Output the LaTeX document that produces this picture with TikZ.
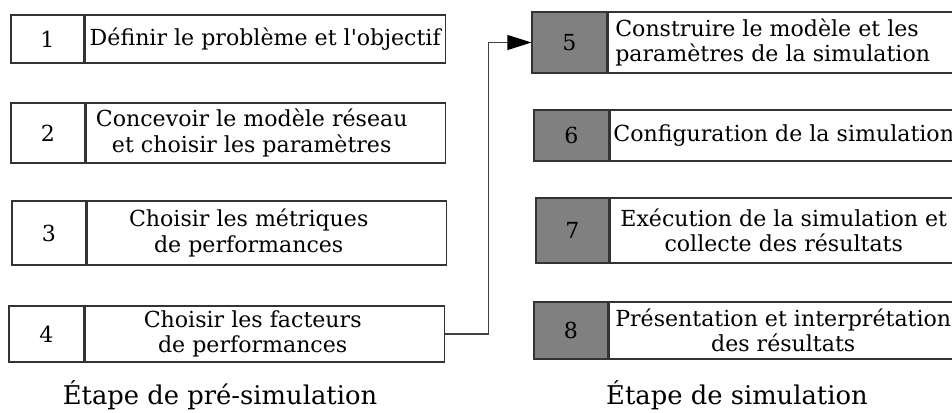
\documentclass[tikz,border=0pt]{standalone}
\usepackage{fontspec}
\setmainfont{DejaVu Serif}
\usetikzlibrary{positioning,arrows.meta}

\begin{document}
\begin{tikzpicture}[x=0.5pt,y=-0.5pt,
    cell/.style={draw=black!80, line width=0.6pt, inner sep=0pt, align=center,
      font=\fontsize{11.05pt}{12.6pt}\selectfont},
    numcell/.style={cell},
    simcell/.style={cell, fill=black!50},
    txtcell/.style={cell, right=0pt of #1},
    stage/.style={font=\fontsize{12.9pt}{14pt}\selectfont}]
    \useasboundingbox (0,0) rectangle (952,412);
    % etape de pre-simulation
    \node[numcell, minimum width=36.5pt, minimum height=24pt] (n1) at (47.5,39) {1};
    \node[txtcell=n1, minimum width=180pt, minimum height=24pt] (t1) {D\'efinir le probl\`eme et l\textquotesingle objectif};
    \node[numcell, minimum width=37pt, minimum height=30pt] (n2) at (48,133) {2};
    \node[txtcell=n2, minimum width=179.5pt, minimum height=30pt] (t2) {Concevoir le mod\`ele r\'eseau\hspace*{14pt}\\ et choisir les param\`etres\hspace*{14pt}};
    \node[numcell, minimum width=37pt, minimum height=32pt] (n3) at (49,233) {3};
    \node[txtcell=n3, minimum width=179.5pt, minimum height=32pt] (t3) {Choisir les m\'etriques\hspace*{18pt}\\ de performances\hspace*{18pt}};
    \node[numcell, minimum width=37.5pt, minimum height=28pt] (n4) at (46.5,334) {4};
    \node[txtcell=n4, minimum width=179.5pt, minimum height=28pt] (t4) {Choisir les facteurs\hspace*{12pt}\\ de performances\hspace*{12pt}};
    \node[stage] (pre) at (220,395) {\'Etape de pr\'e-simulation};
    % etape de simulation
    \node[simcell, minimum width=37.5pt, minimum height=30.5pt] (n5) at (569.5,42.5) {5};
    \node[txtcell=n5, minimum width=174.5pt, minimum height=30.5pt, align=left] (t5) {Construire le mod\`ele et les\\ param\`etres de la simulation\hspace*{10pt}};
    \node[simcell, minimum width=37.5pt, minimum height=25.5pt] (n6) at (571.5,135.5) {6};
    \node[txtcell=n6, minimum width=173.5pt, minimum height=25.5pt] (t6) {Configuration de la simulation};
    \node[simcell, minimum width=36.5pt, minimum height=32.5pt] (n7) at (572.5,230.5) {7};
    \node[txtcell=n7, minimum width=173.5pt, minimum height=32.5pt] (t7) {Ex\'ecution de la simulation et\\ collecte des r\'esultats};
    \node[simcell, minimum width=37pt, minimum height=28.5pt] (n8) at (571,330.5) {8};
    \node[txtcell=n8, minimum width=174pt, minimum height=28.5pt] (t8) {Pr\'esentation et interpr\'etation\\ des r\'esultats};
    \node[stage] (sim) at (737,395) {\'Etape de simulation};
    % passage a la simulation
    \draw[black!75, line width=0.6pt, -{Triangle[length=12pt,width=7.5pt,black]}] (t4.east) -- ++(44,0) |- (n5.west);
\end{tikzpicture}
\end{document}
